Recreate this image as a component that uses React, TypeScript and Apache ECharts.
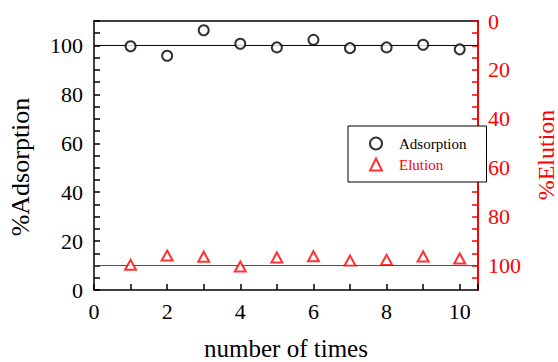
import React, { useEffect, useRef } from "react";
import * as echarts from "echarts";

const runs = [1, 2, 3, 4, 5, 6, 7, 8, 9, 10];
const adsorption = [99.7, 95.8, 106.2, 100.7, 99.2, 102.3, 98.9, 99.2, 100.3, 98.4];
const elution = [99.7, 95.9, 96.4, 100.4, 96.7, 96.2, 98.0, 97.7, 96.3, 97.1];
const adsorptionRef = [[0, 100], [10.5, 100]];
const elutionRef = [[0, 100], [10.5, 100]];
const yTicks = [0, 5, 10, 15, 20, 25, 30, 35, 40, 45, 50, 55, 60, 65, 70, 75, 80, 85, 90, 95, 100, 105];
const yLabels = [0, 20, 40, 60, 80, 100];

const FONT = "Liberation Serif";
const RED = "#ff0000";

export default function App() {
  const ref = useRef<HTMLDivElement>(null);
  useEffect(() => {
    if (!ref.current) return;
    const chart = echarts.init(ref.current, undefined, { renderer: "svg" });
    chart.setOption({
      animation: false,
      grid: { left: 94, right: 80, top: 21, bottom: 72 },
      legend: {
        orient: "vertical",
        left: 348,
        top: 126,
        padding: [10, 20, 10, 21],
        itemGap: 6,
        itemWidth: 12,
        itemHeight: 12,
        borderColor: "#000",
        borderWidth: 1,
        backgroundColor: "#fff",
        textStyle: { fontFamily: FONT, fontSize: 15, padding: [0, 0, 0, 12] },
        data: [
          { name: "Adsorption", textStyle: { color: "#000" } },
          { name: "Elution", textStyle: { color: RED } },
        ],
      },
      xAxis: [
        {
          type: "value",
          min: 0,
          max: 10.5,
          interval: 2,
          axisLine: { show: true, onZero: false, lineStyle: { color: "#000", width: 1.5 } },
          axisTick: { show: true, inside: true, length: 6, lineStyle: { color: "#000", width: 1.5 } },
          minorTick: { show: true, splitNumber: 2, length: 6, lineStyle: { color: "#000", width: 1.5 } },
          axisLabel: { show: true, showMaxLabel: false, color: "#000", fontSize: 22, fontFamily: FONT, margin: 10 },
          splitLine: { show: false },
          minorSplitLine: { show: false },
        },
        {
          type: "value",
          position: "top",
          min: 0,
          max: 10.5,
          axisLine: { show: true, onZero: false, lineStyle: { color: "#000", width: 1.5 } },
          axisTick: { show: false },
          axisLabel: { show: false },
          splitLine: { show: false },
        },
      ],
      yAxis: [
        {
          type: "value",
          position: "left",
          min: 0,
          max: 110,
          interval: 20,
          axisLine: { show: true, onZero: false, lineStyle: { color: "#000", width: 1.5 } },
          axisTick: { show: true, inside: true, length: 6, lineStyle: { color: "#000", width: 1.5 } },
          minorTick: { show: true, splitNumber: 4, length: 6, lineStyle: { color: "#000", width: 1.5 } },
          axisLabel: { show: true, showMaxLabel: false, color: "#000", fontSize: 22, fontFamily: FONT, margin: 11 },
          splitLine: { show: false },
          minorSplitLine: { show: false },
        },
        {
          type: "value",
          min: 0,
          max: 110,
          inverse: true,
          position: "right",
          axisLine: { show: true, onZero: false, lineStyle: { color: RED, width: 2 } },
          axisTick: { show: true, inside: true, length: 6, customValues: yTicks, lineStyle: { color: RED, width: 1.5 } },
          axisLabel: { show: true, customValues: yLabels, color: RED, fontSize: 22, fontFamily: FONT, margin: 10 },
          splitLine: { show: false },
        },
      ],
      graphic: [
        {
          type: "text",
          x: 20,
          y: 167,
          rotation: Math.PI / 2,
          style: { text: "%Adsorption", fill: "#000", font: `26px ${FONT}`, textAlign: "center", textVerticalAlign: "middle" },
        },
        {
          type: "text",
          x: 546,
          y: 155,
          rotation: Math.PI / 2,
          style: { text: "%Elution", fill: RED, font: `24px ${FONT}`, textAlign: "center", textVerticalAlign: "middle" },
        },
        {
          type: "text",
          x: 286,
          y: 348,
          style: { text: "number of times", fill: "#000", font: `25px ${FONT}`, textAlign: "center", textVerticalAlign: "middle" },
        },
      ],
      series: [
        {
          type: "line",
          data: adsorptionRef,
          xAxisIndex: 0,
          yAxisIndex: 0,
          symbol: "none",
          lineStyle: { color: "#000", width: 1 },
          silent: true,
          z: 1,
        },
        {
          type: "line",
          data: elutionRef,
          xAxisIndex: 0,
          yAxisIndex: 1,
          symbol: "none",
          lineStyle: { color: RED, width: 1 },
          silent: true,
          z: 1,
        },
        {
          name: "Adsorption",
          type: "scatter",
          xAxisIndex: 0,
          yAxisIndex: 0,
          data: runs.map((r, i) => [r, adsorption[i]]),
          symbol: "emptyCircle",
          symbolSize: 10,
          itemStyle: { color: "#000", borderColor: "#000", borderWidth: 1.8 },
          z: 3,
        },
        {
          name: "Elution",
          type: "scatter",
          xAxisIndex: 0,
          yAxisIndex: 1,
          data: runs.map((r, i) => [r, elution[i]]),
          symbol: "emptyTriangle",
          symbolSize: [11, 10],
          itemStyle: { color: RED, borderColor: RED, borderWidth: 1.8 },
          z: 3,
        },
      ],
    });
    return () => chart.dispose();
  }, []);
  return <div ref={ref} style={{ position: "fixed", left: 0, top: 0, width: 558, height: 362, background: "#fff" }} />;
}
